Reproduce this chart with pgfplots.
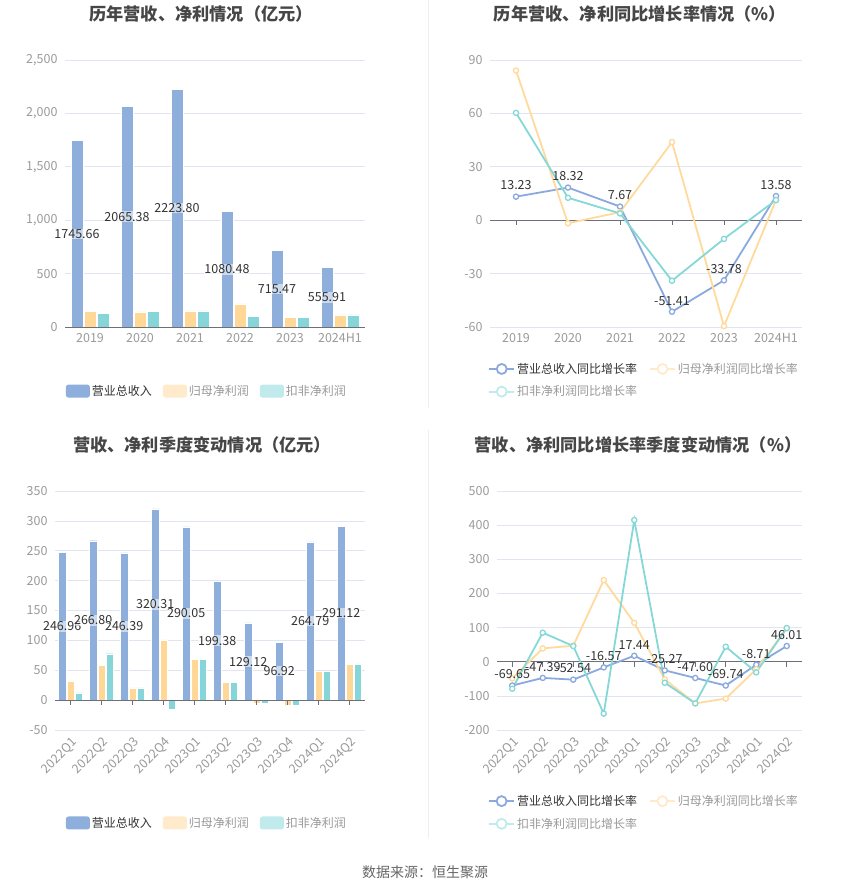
\documentclass[border=0pt]{standalone}
\usepackage{fontspec}
\setmainfont{Noto Sans CJK SC}
\usepackage{pgfplots}
\usepackage{pgfplotstable}
\pgfplotsset{compat=1.18}

\definecolor{rev}{HTML}{8EAEDB}
\definecolor{np}{HTML}{FFD898}
\definecolor{kf}{HTML}{86D5D8}
\definecolor{npl}{HTML}{FFEACB}
\definecolor{kfl}{HTML}{C0EAEB}
\definecolor{revline}{HTML}{8AA9DE}
\definecolor{npline}{HTML}{FFDA9C}
\definecolor{kfline}{HTML}{86D8D6}
\definecolor{gridc}{HTML}{E0E6F1}
\definecolor{axc}{HTML}{6E7079}
\definecolor{tickc}{HTML}{9A9A9A}
\definecolor{titlec}{HTML}{464646}
\definecolor{labc}{HTML}{333333}
\definecolor{legg}{HTML}{999999}
\definecolor{divc}{HTML}{EEEEEE}

\pgfplotstableread{
x rev np kf
0 1745.66 147 131
1 2065.38 141 147
2 2223.80 150 150
3 1080.48 216 103
4 715.47 88 88
5 555.91 113 113
}\annual

\pgfplotstableread{
x rev np kf
0 13.23 84.1 60.3
1 18.32 -1.7 12.6
2 7.67 4.5 3.8
3 -51.41 43.9 -34.0
4 -33.78 -59.5 -10.5
5 13.58 11.3 11.3
}\annualg

\pgfplotstableread{
x rev np kf
0 246.96 31.3 12.3
1 266.80 58.7 77.7
2 246.39 20.7 20.7
3 320.31 101.0 -15.6
4 290.05 68.8 68.8
5 199.38 29.6 29.6
6 129.12 -4.5 -5.0
7 96.92 -9.0 -9.0
8 264.79 48.6 48.6
9 291.12 60.4 60.4
}\quarter

\pgfplotstableread{
x rev np kf
0 -69.65 -48.8 -79.0
1 -47.39 39.0 85.0
2 -52.54 46.9 46.0
3 -16.57 239.0 -152.0
4 17.44 114.0 415.0
5 -25.27 -51.8 -61.5
6 -47.60 -122.0 -122.0
7 -69.74 -108.0 44.0
8 -8.71 -22.0 -31.0
9 46.01 97.7 98.6
}\quarterg

\tikzset{
  lbl/.style={font=\fontsize{12.5}{14}\selectfont, text=labc},
  barlbl/.style={anchor=center, font=\fontsize{12.5}{14}\selectfont, text=labc, fill=white, fill opacity=0.55, text opacity=1, inner sep=0.6pt},
}

\pgfplotsset{
  base/.style={
    scale only axis,
    axis line style={draw=none},
    major tick length=0pt,
    ymajorgrids,
    major grid style={color=gridc, line width=0.7pt},
    tick label style={font=\fontsize{12.5}{14}\selectfont, text=tickc},
    /pgf/number format/assume math mode=true,
    yticklabel style={xshift=-4pt},
    extra y ticks={0},
    extra y tick style={major grid style={color=axc, line width=0.9pt}},
    clip=false,
    legend style={draw=none, fill=none, font=\fontsize{12}{14}\selectfont, inner sep=0pt},
    legend cell align=left,
  },
  barlegend/.style={
    legend image code/.code={\fill[##1, draw=none, rounded corners=2.5pt] (0pt,-6.5pt) rectangle (24pt,6.5pt);},
    legend columns=3,
    legend style={/tikz/every even column/.append style={column sep=9pt}},
  },
  linelegend/.style={
    legend image code/.code={\draw[##1, line width=1.8pt] (0pt,0pt) -- (25pt,0pt); \draw[##1, line width=1.8pt, fill=white] (12.5pt,0pt) circle (5pt);},
    legend columns=2,
    legend style={/tikz/every even column/.append style={column sep=10pt}, row sep=7pt},
  },
}

\begin{document}
\begin{tikzpicture}
\path[use as bounding box] (0,0) rectangle (850pt,-891pt);

% dividers
\draw[divc, line width=0.8pt] (428pt,0pt) -- (428pt,-408pt);
\draw[divc, line width=0.8pt] (428pt,-430pt) -- (428pt,-838pt);

% titles
\node[font=\fontsize{17.2}{20}\selectfont\bfseries, text=titlec] at (201pt,-14pt) {历年营收、净利情况（亿元）};
\node[font=\fontsize{17.2}{20}\selectfont\bfseries, text=titlec] at (640pt,-14pt) {历年营收、净利同比增长率情况（\%）};
\node[font=\fontsize{17.2}{20}\selectfont\bfseries, text=titlec] at (202pt,-445pt) {营收、净利季度变动情况（亿元）};
\node[font=\fontsize{17.2}{20}\selectfont\bfseries, text=titlec] at (638pt,-445pt) {营收、净利同比增长率季度变动情况（\%）};
\node[font=\fontsize{14}{16}\selectfont, text=labc!75] at (425pt,-872pt) {数据来源：恒生聚源};

% ---------------- Panel 1 ----------------
\begin{axis}[base, barlegend,
  at={(65pt,-327pt)}, anchor=south west,
  width=300pt, height=267pt,
  xmin=-0.5, xmax=5.5, ymin=0, ymax=2500,
  ytick={500,1000,1500,2000,2500},
  xtick={0,...,5}, xticklabels={2019,2020,2021,2022,2023,2024H1},
  xticklabel style={yshift=-3pt},
  legend style={at={(axis description cs:0.473,-0.24)}, anchor=center},
]
\addplot[forget plot, ybar, bar width=11.5pt, bar shift=-13pt, fill=rev, draw=white, line width=0.4pt] table[x=x,y=rev]{\annual};
\addplot[forget plot, ybar, bar width=11.5pt, bar shift=0pt, fill=np, draw=white, line width=0.4pt] table[x=x,y=np]{\annual};
\addplot[forget plot, ybar, bar width=11.5pt, bar shift=13pt, fill=kf, draw=white, line width=0.4pt] table[x=x,y=kf]{\annual};
\draw[axc, line width=0.9pt] (axis cs:-0.5,0) -- (axis cs:5.5,0);
\addplot[forget plot, draw=none, mark=none, nodes near coords, point meta=explicit symbolic,
  every node near coord/.style={barlbl}] table[x expr=\thisrow{x}-0.26, y expr=\thisrow{rev}/2, meta=rev]{\annual};
\addlegendimage{fill=rev}
\addlegendentry{\textcolor{labc}{营业总收入}}
\addlegendimage{fill=npl}
\addlegendentry{\textcolor{legg}{归母净利润}}
\addlegendimage{fill=kfl}
\addlegendentry{\textcolor{legg}{扣非净利润}}
\end{axis}

% ---------------- Panel 2 ----------------
\begin{axis}[base, linelegend,
  at={(490pt,-327pt)}, anchor=south west,
  width=312pt, height=267pt,
  xmin=-0.5, xmax=5.5, ymin=-60, ymax=90,
  ytick={-60,-30,30,60,90},
  xtick={0,...,5}, xticklabels={2019,2020,2021,2022,2023,2024H1},
  xticklabel style={yshift=-3pt},
  legend style={at={(axis description cs:-0.006,-0.127)}, anchor=north west},
]
\pgfplotsinvokeforeach{0,...,5}{\draw[axc, line width=0.9pt] (axis cs:#1,0) -- ++(0pt,-5pt);}
\addplot[forget plot, color=revline, line width=1.8pt, mark=*, mark size=2.6pt, mark options={fill=white, line width=1.3pt}] table[x=x,y=rev]{\annualg};
\addplot[forget plot, color=npline, line width=1.8pt, mark=*, mark size=2.6pt, mark options={fill=white, line width=1.3pt}] table[x=x,y=np]{\annualg};
\addplot[forget plot, color=kfline, line width=1.8pt, mark=*, mark size=2.6pt, mark options={fill=white, line width=1.3pt}] table[x=x,y=kf]{\annualg};
\addplot[forget plot, draw=none, mark=none, nodes near coords, point meta=explicit symbolic,
  every node near coord/.style={lbl, anchor=south, yshift=3pt}] table[x=x, y=rev, meta=rev]{\annualg};
\addlegendimage{color=revline}
\addlegendentry{\textcolor{labc}{营业总收入同比增长率}}
\addlegendimage{color=npl}
\addlegendentry{\textcolor{legg}{归母净利润同比增长率}}
\addlegendimage{color=kfl}
\addlegendentry{\textcolor{legg}{扣非净利润同比增长率}}
\end{axis}

% ---------------- Panel 3 ----------------
\begin{axis}[base, barlegend,
  at={(55pt,-730pt)}, anchor=south west,
  width=310pt, height=239pt,
  xmin=-0.5, xmax=9.5, ymin=-50, ymax=350,
  ytick={-50,50,100,150,200,250,300,350},
  xtick={0,...,9}, xticklabels={2022Q1,2022Q2,2022Q3,2022Q4,2023Q1,2023Q2,2023Q3,2023Q4,2024Q1,2024Q2},
  xticklabel style={anchor=east, xshift=7pt, yshift=-8pt, rotate=45},
  legend style={at={(axis description cs:0.49,-0.389)}, anchor=center},
]
\addplot[forget plot, ybar, bar width=7.3pt, bar shift=-8.3pt, fill=rev, draw=white, line width=0.4pt] table[x=x,y=rev]{\quarter};
\addplot[forget plot, ybar, bar width=7.3pt, bar shift=0pt, fill=np, draw=white, line width=0.4pt] table[x=x,y=np]{\quarter};
\addplot[forget plot, ybar, bar width=7.3pt, bar shift=8.3pt, fill=kf, draw=white, line width=0.4pt] table[x=x,y=kf]{\quarter};
\draw[axc, line width=0.9pt] (axis cs:-0.5,0) -- (axis cs:9.5,0);
\pgfplotsinvokeforeach{0,...,9}{\draw[axc, line width=0.9pt] (axis cs:#1,0) -- ++(0pt,-5pt);}
\addplot[forget plot, draw=none, mark=none, nodes near coords, point meta=explicit symbolic,
  every node near coord/.style={barlbl}] table[x expr=\thisrow{x}-0.268, y expr=\thisrow{rev}/2, meta=rev]{\quarter};
\addlegendimage{fill=rev}
\addlegendentry{\textcolor{labc}{营业总收入}}
\addlegendimage{fill=npl}
\addlegendentry{\textcolor{legg}{归母净利润}}
\addlegendimage{fill=kfl}
\addlegendentry{\textcolor{legg}{扣非净利润}}
\end{axis}

% ---------------- Panel 4 ----------------
\begin{axis}[base, linelegend,
  at={(497pt,-730pt)}, anchor=south west,
  width=305pt, height=239pt,
  xmin=-0.5, xmax=9.5, ymin=-200, ymax=500,
  ytick={-200,-100,100,200,300,400,500},
  xtick={0,...,9}, xticklabels={2022Q1,2022Q2,2022Q3,2022Q4,2023Q1,2023Q2,2023Q3,2023Q4,2024Q1,2024Q2},
  xticklabel style={anchor=east, xshift=7pt, yshift=-8pt, rotate=45},
  legend style={at={(axis description cs:-0.0295,-0.264)}, anchor=north west},
]
\pgfplotsinvokeforeach{0,...,9}{\draw[axc, line width=0.9pt] (axis cs:#1,0) -- ++(0pt,-5pt);}
\addplot[forget plot, color=revline, line width=1.8pt, mark=*, mark size=2.6pt, mark options={fill=white, line width=1.3pt}] table[x=x,y=rev]{\quarterg};
\addplot[forget plot, color=npline, line width=1.8pt, mark=*, mark size=2.6pt, mark options={fill=white, line width=1.3pt}] table[x=x,y=np]{\quarterg};
\addplot[forget plot, color=kfline, line width=1.8pt, mark=*, mark size=2.6pt, mark options={fill=white, line width=1.3pt}] table[x=x,y=kf]{\quarterg};
\addplot[forget plot, draw=none, mark=none, nodes near coords, point meta=explicit symbolic,
  every node near coord/.style={lbl, anchor=south, yshift=3pt}] table[x=x, y=rev, meta=rev]{\quarterg};
\addlegendimage{color=revline}
\addlegendentry{\textcolor{labc}{营业总收入同比增长率}}
\addlegendimage{color=npl}
\addlegendentry{\textcolor{legg}{归母净利润同比增长率}}
\addlegendimage{color=kfl}
\addlegendentry{\textcolor{legg}{扣非净利润同比增长率}}
\end{axis}
\end{tikzpicture}
\end{document}
